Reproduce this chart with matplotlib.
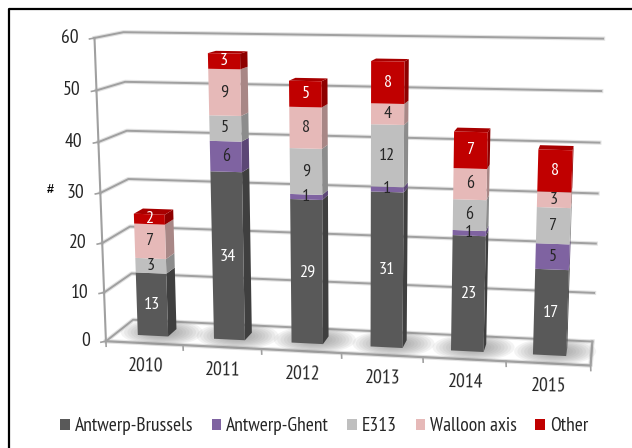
import matplotlib
matplotlib.use("Agg")
import matplotlib.pyplot as plt
from matplotlib.patches import Polygon, Ellipse, Patch
import numpy as np

plt.rcParams['font.family'] = ['PT Sans Narrow', 'Liberation Sans', 'DejaVu Sans']

years = ["2010", "2011", "2012", "2013", "2014", "2015"]
names = ["Antwerp-Brussels", "Antwerp-Ghent", "E313", "Walloon axis", "Other"]
antwerp_brussels = [13, 34, 29, 31, 23, 17]
antwerp_ghent = [0, 6, 1, 1, 1, 5]
e313 = [3, 5, 9, 12, 6, 7]
walloon = [7, 9, 8, 4, 6, 3]
other = [2, 3, 5, 8, 7, 8]
yticks = [0, 10, 20, 30, 40, 50, 60]

front_col = ["#595959", "#7F63A1", "#BFBFBF", "#E6B9B8", "#C00000"]
side_col = ["#3F3F3F", "#5C4776", "#8C8C8C", "#A88786", "#8E0000"]
top_col = ["#6A6A6A", "#927AB0", "#CFCFCF", "#EFCFCE", "#A80000"]
text_col = ["white", "#262626", "#262626", "#262626", "white"]
grid_col = "#A0A0A0"
shade_col = "#E2E2E2"

# box corners (category, value, depth) -> pixel, used to fit the 3d view
corners = [
    ((0, 0, 0), (105, 340)), ((0, 60, 0), (95, 37)),
    ((0, 0, 1), (134, 321)), ((0, 60, 1), (123, 33)),
    ((6, 0, 1), (592, 341)), ((6, 60, 1), (603, 37)),
    ((6, 0, 0), (591, 366)), ((6, 60, 0), (602, 47)),
]


def fit_view(pts):
    A, b = [], []
    for (u, v, z), (px, py) in pts:
        A.append([u, v, z, 1, 0, 0, 0, 0, -px*u, -px*v, -px*z])
        b.append(px)
        A.append([0, 0, 0, 0, u, v, z, 1, -py*u, -py*v, -py*z])
        b.append(py)
    p = np.linalg.lstsq(np.array(A, float), np.array(b, float), rcond=None)[0]
    return np.append(p, 1).reshape(3, 4)


view = fit_view(corners)


def pr(u, v, z):
    q = view @ np.array([u, v, z, 1.0])
    return q[0]/q[2], q[1]/q[2]


fig = plt.figure(figsize=(6.32, 4.48), dpi=100)
ax = fig.add_axes([0, 0, 1, 1])
ax.set_xlim(0, 632)
ax.set_ylim(448, 0)
ax.axis("off")

# frame runs off the picture on the right and bottom
ax.plot([8.5, 8.5, 632], [448, 9.5, 9.5], color="black", lw=1.6, zorder=1)

# walls and floor
for t in yticks:
    line = [pr(0, t, 0), pr(0, t, 1), pr(6, t, 1)]
    ax.plot(*zip(*line), color=shade_col, lw=3, zorder=1.5)
    ax.plot(*zip(*line), color=grid_col, lw=1.4, zorder=2)
    x0, y0 = pr(0, t, 0)
    ax.plot([x0-5, x0], [y0+1, y0], color=grid_col, lw=1.2, zorder=2)
    ax.text(x0-16, y0, str(t), ha="right", va="center", fontsize=14, color="#262626")
ax.plot(*zip(pr(0, 0, 0), pr(0, 60, 0)), color=grid_col, lw=1.5, zorder=2)
floor = [pr(0, 0, 0), pr(6, 0, 0), pr(6, 0, 1)]
ax.plot(*zip(*floor), color=shade_col, lw=3.2, zorder=1.5)
ax.plot(*zip(*floor), color=grid_col, lw=1.6, zorder=2)
for i in range(7):
    x0, y0 = pr(i, 0, 0)
    ax.plot([x0, x0+0.2], [y0, y0+5], color=grid_col, lw=1.2, zorder=2)
for i, yr in enumerate(years):
    x0, y0 = pr(i+0.5, 0, 0)
    ax.text(x0+1, y0+23, yr, ha="center", va="center", fontsize=14, color="#262626", rotation=-1)
ax.text(50, 190, "#", ha="center", va="center", fontsize=9, fontweight="bold", family="Liberation Sans")

# soft shadows under the bars
for i in range(6):
    cx, cy = pr(i+0.56, 0, 0.5)
    for k in np.linspace(1, 0.35, 9):
        ax.add_patch(Ellipse((cx, cy), 82*k, 27*k, color="#808080", alpha=0.09, lw=0, zorder=3))

# stacked bars, drawn face by face
series = [antwerp_brussels, antwerp_ghent, e313, walloon, other]
half = 0.2
z0, z1 = 0.33, 0.67
for i in range(6):
    l, r = i+0.5-half, i+0.5+half
    base = 0
    for s, vals in enumerate(series):
        val = vals[i]
        if val == 0:
            continue
        hi = base+val
        side = [pr(r, base, z0), pr(r, hi, z0), pr(r, hi, z1), pr(r, base, z1)]
        front = [pr(l, base, z0), pr(r, base, z0), pr(r, hi, z0), pr(l, hi, z0)]
        ax.add_patch(Polygon(side, fc=side_col[s], ec="none", zorder=4))
        ax.add_patch(Polygon(front, fc=front_col[s], ec="none", zorder=5))
        if hi == sum(v[i] for v in series):
            top = [pr(l, hi, z0), pr(r, hi, z0), pr(r, hi, z1), pr(l, hi, z1)]
            ax.add_patch(Polygon(top, fc=top_col[s], ec="none", zorder=4))
        tx, ty = pr(i+0.5, base+val/2, z0)
        ax.text(tx, ty, str(val), ha="center", va="center", fontsize=13, color=text_col[s], zorder=6)
        base = hi

handles = [Patch(fc=c, ec="none", label=n) for c, n in zip(front_col, names)]
fig.legend(handles=handles, loc="center left", bbox_to_anchor=(60/632, 1-426/448), ncol=5, frameon=False,
           fontsize=14, handlelength=0.5, handleheight=0.5, handletextpad=0.25, columnspacing=0.95,
           borderpad=0, borderaxespad=0, labelcolor="#262626")

fig.savefig("out.png", dpi=100)
